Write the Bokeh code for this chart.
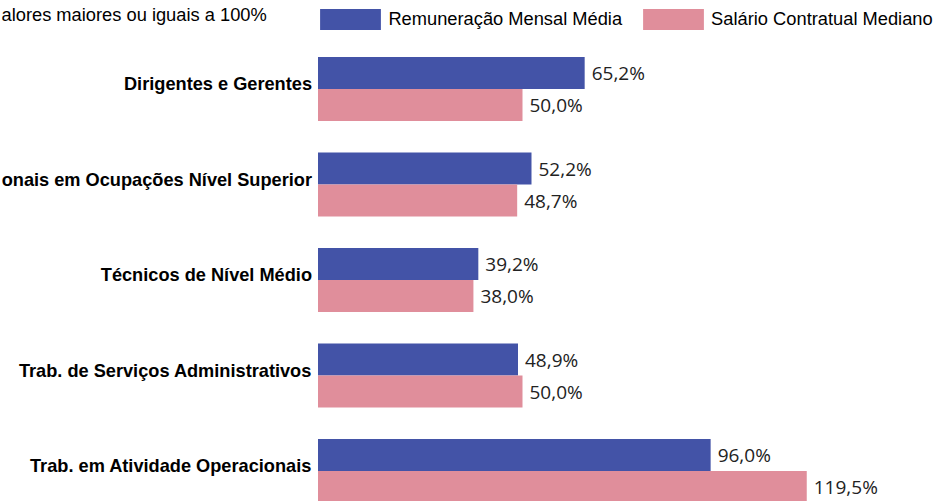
from bokeh.plotting import figure
from bokeh.models import Range1d, Legend, LegendItem, Label, ColumnDataSource
from bokeh.core.properties import value
from bokeh.embed import file_html
from bokeh.resources import INLINE

# ---- data ----
categories = [
    "Dirigentes e Gerentes",
    "onais em Ocupações Nível Superior",
    "Técnicos de Nível Médio",
    "Trab. de Serviços Administrativos",
    "Trab. em Atividade Operacionais",
]
remuneracao_media = [65.2, 52.2, 39.2, 48.9, 96.0]
salario_mediano = [50.0, 48.7, 38.0, 50.0, 119.5]
series_names = ["Remuneração Mensal Média", "Salário Contratual Mediano"]
note_text = "alores maiores ou iguais a 100%"

BLUE = "#4353A7"
PINK = "#E08E9B"
W, H = 938, 501

# pixel mapping helpers (layout only)
x0_px, px_per_unit = 317.5, 4.09
first_center_px, group_step_px = 88.5, 95.5
bar_h = 32.0 / group_step_px

x_start = -x0_px / px_per_unit
x_end = x_start + W / px_per_unit
y_top = -first_center_px / group_step_px
y_bottom = y_top + H / group_step_px

p = figure(width=W, height=H, x_range=Range1d(x_start, x_end),
           y_range=Range1d(y_bottom, y_top),
           toolbar_location=None, output_backend="svg", min_border=0,
           x_axis_location=None, y_axis_location=None)
p.grid.visible = False
p.outline_line_color = None
p.background_fill_color = "white"
p.border_fill_color = "white"

idx = list(range(len(categories)))
y_blue = [i - bar_h / 2 for i in idx]
y_pink = [i + bar_h / 2 for i in idx]

fmt = lambda v: f"{v:.1f}".replace(".", ",") + "%"

src_b = ColumnDataSource(dict(y=y_blue, v=remuneracao_media, t=[fmt(v) for v in remuneracao_media]))
src_p = ColumnDataSource(dict(y=y_pink, v=salario_mediano, t=[fmt(v) for v in salario_mediano]))
src_c = ColumnDataSource(dict(y=idx, x=[0] * len(idx), t=categories))

rb = p.hbar(y="y", left=0, right="v", height=bar_h, source=src_b,
            fill_color=BLUE, line_color=None)
rp = p.hbar(y="y", left=0, right="v", height=bar_h, source=src_p,
            fill_color=PINK, line_color=None)

for src in (src_b, src_p):
    p.text(x="v", y="y", text="t", source=src, x_offset=7,
           text_baseline="middle", text_align="left",
           text_font=value("Open Sans"), text_font_size="19px",
           text_color="#222222")

p.text(x="x", y="y", text="t", source=src_c, x_offset=-6, y_offset=-5,
       text_baseline="alphabetic", text_align="right",
       text_font=value("Liberation Sans"), text_font_size="18.2px",
       text_font_style="bold", text_color="black")

p.add_layout(Label(x=1, y=H - 13.5, x_units="screen", y_units="screen",
                   text=note_text, text_baseline="alphabetic",
                   text_font="Liberation Sans", text_font_size="18.3px",
                   text_color="black"))

legend = Legend(items=[LegendItem(label=series_names[0], renderers=[rb]),
                       LegendItem(label=series_names[1], renderers=[rp])],
                orientation="horizontal", location=(312.4, H - 31.5),
                glyph_width=76, glyph_height=26, label_standoff=0,
                spacing=13, padding=0, margin=0,
                border_line_color=None, background_fill_alpha=0,
                label_text_font="Liberation Sans", label_text_font_size="18.3px",
                label_text_color="black")
p.add_layout(legend, "center")

open("out.html", "w").write(file_html(p, INLINE))
